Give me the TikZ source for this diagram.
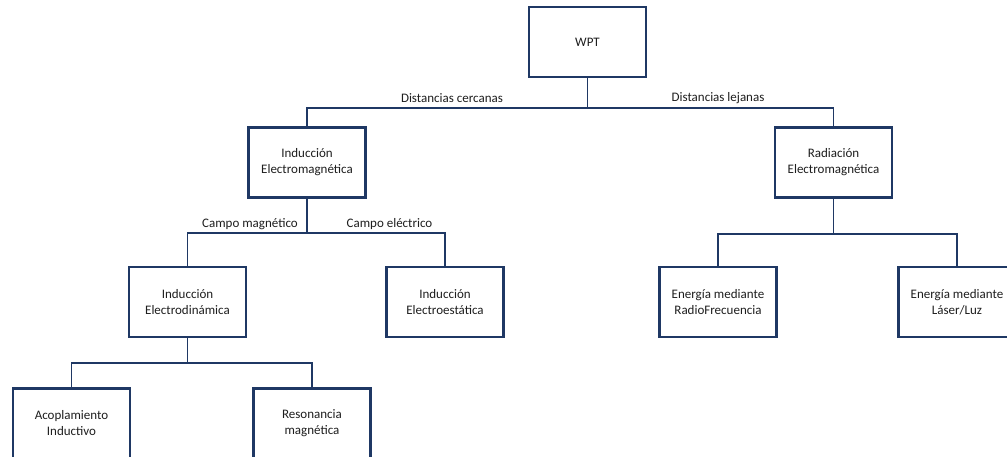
\documentclass[tikz,border=0pt]{standalone}
\usepackage{fontspec}
\setmainfont{Carlito}
\definecolor{navy}{RGB}{31,56,100}
\definecolor{txt}{RGB}{30,30,30}
\begin{document}
\begin{tikzpicture}[x=1pt,y=-1pt,
  box/.style={draw=navy,line width=2.6pt,minimum width=117pt,minimum height=70pt,
    align=center,text=txt,font=\fontsize{13}{16}\selectfont,inner sep=0pt},
  conn/.style={draw=navy,line width=1.2pt},
  lbl/.style={text=txt,font=\fontsize{13}{15}\selectfont,inner sep=0pt}]
\clip (0,0) rectangle (1007,456);
\fill[white] (0,0) rectangle (1007,456);
\node[box] (wpt) at (587.5,42) {WPT};
\node[box] (ie) at (307,162.5) {Inducción\\Electromagnética};
\node[box] (re) at (833.5,162.5) {Radiación\\Electromagnética};
\node[box] (ed) at (187.5,302) {Inducción\\Electrodinámica};
\node[box] (es) at (445,302) {Inducción\\Electroestática};
\node[box] (rf) at (718,302) {Energía mediante\\RadioFrecuencia};
\node[box] (lz) at (957,302) {Energía mediante\\Láser/Luz};
\node[box] (ac) at (71.5,423.5) {Acoplamiento\\Inductivo};
\node[box] (rm) at (312,423.5) {Resonancia\\magnética};
\coordinate (j1) at (587.5,108);
\coordinate (j2) at (307,233);
\coordinate (j3) at (833.5,234);
\coordinate (j4) at (187.5,363);
\draw[conn] (wpt.south) -- (j1);
\draw[conn] (j1) -| (ie.north);
\draw[conn] (j1) -| (re.north);
\draw[conn] (ie.south) -- (j2);
\draw[conn] (j2) -| (ed.north);
\draw[conn] (j2) -| (es.north);
\draw[conn] (re.south) -- (j3);
\draw[conn] (j3) -| (rf.north);
\draw[conn] (j3) -| (lz.north);
\draw[conn] (ed.south) -- (j4);
\draw[conn] (j4) -| (ac.north);
\draw[conn] (j4) -| (rm.north);
\node[lbl] (l1) at (452,98) {Distancias cercanas};
\node[lbl] (l2) at (718,98) {Distancias lejanas};
\node[lbl] (l3) at (250,224) {Campo magnético};
\node[lbl] (l4) at (389.5,224) {Campo eléctrico};
\end{tikzpicture}
\end{document}
